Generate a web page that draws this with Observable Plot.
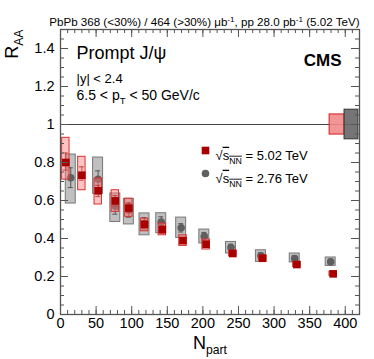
<!DOCTYPE html>
<html>
<head>
<meta charset="utf-8">
<script src="https://cdn.jsdelivr.net/npm/d3@7"></script>
<script src="https://cdn.jsdelivr.net/npm/@observablehq/plot@0.6"></script>
<style>
  html, body { margin: 0; padding: 0; background: #fff; }
  #chart svg { font-family: "Liberation Sans", Arial, Helvetica, sans-serif; display: block; }
</style>
</head>
<body>
<div id="chart"></div>
<script>
// ---- data: 5.02 TeV (red squares)
const nRed      = [7.5, 30, 53, 77, 96, 118, 143, 172, 204.5, 242, 284, 332, 383];
const rRed      = [0.80, 0.733, 0.651, 0.598, 0.56, 0.474, 0.447, 0.389, 0.37, 0.321, 0.296, 0.263, 0.214];
const redStatLo = [0.76, 0.707, 0.62, 0.57, 0.535, 0.455, 0.428, 0.375, 0.357, 0.311, 0.287, 0.255, 0.207];
const redStatHi = [0.85, 0.777, 0.68, 0.626, 0.585, 0.493, 0.466, 0.403, 0.383, 0.331, 0.305, 0.271, 0.221];
const redSystLo = [0.71, 0.654, 0.579, 0.54, 0.514, 0.438, 0.417, 0.361, 0.342, 0.306, 0.283, 0.25, 0.203];
const redSystHi = [0.93, 0.83, 0.716, 0.654, 0.61, 0.505, 0.479, 0.417, 0.395, 0.336, 0.31, 0.276, 0.225];
// ---- data: 2.76 TeV (grey circles)
const nGrey      = [14.4, 52.8, 77, 96, 118, 141.5, 169.5, 202, 239.5, 281.5, 329, 379.5];
const rGrey      = [0.72, 0.712, 0.57, 0.55, 0.48, 0.487, 0.456, 0.412, 0.353, 0.309, 0.295, 0.277];
const greyStatLo = [0.668, 0.668, 0.528, 0.512, 0.45, 0.46, 0.434, 0.392, 0.336, 0.293, 0.28, 0.263];
const greyStatHi = [0.772, 0.756, 0.612, 0.588, 0.51, 0.514, 0.478, 0.432, 0.37, 0.325, 0.31, 0.291];
const greySystLo = [0.584, 0.635, 0.487, 0.474, 0.417, 0.428, 0.403, 0.374, 0.321, 0.277, 0.274, 0.256];
const greySystHi = [0.842, 0.826, 0.637, 0.608, 0.532, 0.533, 0.51, 0.447, 0.382, 0.338, 0.321, 0.30];
// ---- global uncertainties at R_AA = 1
const globalLabels = ["5.02 TeV", "2.76 TeV"];
const globalHalf   = [0.053, 0.078];
// ---- ticks
const xMajor = d3.range(0, 401, 50);
const xMinor = d3.range(0, 421, 10);
const yMajor = [0, 0.2, 0.4, 0.6, 0.8, 1, 1.2, 1.4];
const yMinor = d3.range(0, 31).map(i => +(i * 0.05).toFixed(2));
// ---- texts
const headerText = "PbPb 368 (<30%) / 464 (>30%) μb^{-1}, pp 28.0 pb^{-1} (5.02 TeV)";
const titleText = "Prompt J/ψ";
const rapText = "|y| < 2.4";
const ptText = "6.5 < p_{T} < 50 GeV/c";
const cmsText = "CMS";
const yLabel = "R_{AA}";
const xLabel = "N_{part}";
const legendRed = "√~{s}_{NN} = 5.02 TeV";
const legendGrey = "√~{s}_{NN} = 2.76 TeV";

const red = nRed.map((n, i) => ({n, r: rRed[i], slo: redStatLo[i], shi: redStatHi[i], ylo: redSystLo[i], yhi: redSystHi[i]}));
const grey = nGrey.map((n, i) => ({n, r: rGrey[i], slo: greyStatLo[i], shi: greyStatHi[i], ylo: greySystLo[i], yhi: greySystHi[i]}));

const W = 374, H = 359, mL = 60, mR = 15, mT = 29, mB = 45;
const fw = W - mL - mR, fh = H - mT - mB;
const xMax = 420;
const globalBoxes = [
  {label: globalLabels[0], half: globalHalf[0], x1: xMax - 42, x2: xMax - 21, fill: "#f08a8a", stroke: "#d02020"},
  {label: globalLabels[1], half: globalHalf[1], x1: xMax - 21, x2: xMax - 1.5, fill: "#666", stroke: "#333"}
];
const frameCol = "#555";
const font = 14.5;

const plot = Plot.plot({
  width: W, height: H,
  marginLeft: mL, marginRight: mR, marginTop: mT, marginBottom: mB,
  x: {domain: [0, xMax]},
  y: {domain: [0, 1.5]},
  style: {fontFamily: "Liberation Sans, Arial, sans-serif", color: "#000", background: "#fff"},
  marks: [
    // unity line
    Plot.ruleY([1], {stroke: "#444", strokeWidth: 1}),
    // global uncertainty boxes
    Plot.rect(globalBoxes, {x1: "x1", x2: "x2", y1: d => 1 - d.half, y2: d => 1 + d.half, fill: "fill", fillOpacity: 0.9, stroke: "stroke", strokeWidth: 1}),
    // grey syst boxes
    Plot.rect(grey, {x1: d => d.n - 7, x2: d => d.n + 7, y1: "ylo", y2: "yhi", fill: "#8c8c8c", fillOpacity: 0.55, stroke: "#777", strokeWidth: 1}),
    Plot.ruleX(grey, {x: "n", y1: "slo", y2: "shi", stroke: "#555", strokeWidth: 1}),
    Plot.ruleY(grey, {y: "slo", x1: d => d.n - 3.5, x2: d => d.n + 3.5, stroke: "#555", strokeWidth: 1}),
    Plot.ruleY(grey, {y: "shi", x1: d => d.n - 3.5, x2: d => d.n + 3.5, stroke: "#555", strokeWidth: 1}),
    Plot.dot(grey, {x: "n", y: "r", r: 3.8, fill: "#5f5f5f", stroke: "none"}),
    // red syst boxes
    Plot.rect(red, {x1: d => d.n - 5.2, x2: d => d.n + 5.2, y1: "ylo", y2: "yhi", fill: "#ff7a7a", fillOpacity: 0.45, stroke: "#d83030", strokeWidth: 1}),
    Plot.ruleX(red, {x: "n", y1: "slo", y2: "shi", stroke: "#c84040", strokeWidth: 1}),
    Plot.ruleY(red, {y: "slo", x1: d => d.n - 3.5, x2: d => d.n + 3.5, stroke: "#c84040", strokeWidth: 1}),
    Plot.ruleY(red, {y: "shi", x1: d => d.n - 3.5, x2: d => d.n + 3.5, stroke: "#c84040", strokeWidth: 1}),
    Plot.dot(red, {x: "n", y: "r", symbol: "square", r: 4.3, fill: "#a80000", stroke: "none"}),
    // frame
    Plot.frame({stroke: frameCol, strokeWidth: 1.3}),
    // ticks (inward, all four sides)
    Plot.tickX(xMajor, {x: d => d, insetTop: fh - 8, stroke: frameCol}),
    Plot.tickX(xMinor, {x: d => d, insetTop: fh - 4, stroke: frameCol}),
    Plot.tickX(xMajor, {x: d => d, insetBottom: fh - 8, stroke: frameCol}),
    Plot.tickX(xMinor, {x: d => d, insetBottom: fh - 4, stroke: frameCol}),
    Plot.tickY(yMajor, {y: d => d, insetRight: fw - 8, stroke: frameCol}),
    Plot.tickY(yMinor, {y: d => d, insetRight: fw - 4, stroke: frameCol}),
    Plot.tickY(yMajor, {y: d => d, insetLeft: fw - 8, stroke: frameCol}),
    Plot.tickY(yMinor, {y: d => d, insetLeft: fw - 4, stroke: frameCol}),
    // axis labels
    Plot.axisX({ticks: xMajor, tickSize: 0, tickPadding: 3, fontSize: font, label: null, tickFormat: d => String(d)}),
    Plot.axisY({ticks: yMajor, tickSize: 0, tickPadding: 6, fontSize: font, label: null, tickFormat: d => String(d)}),
    // texts
    Plot.text([headerText], {frameAnchor: "top-right", dy: -12, textAnchor: "end", fontSize: 11.6, fill: "#000"}),
    Plot.text([titleText], {frameAnchor: "top-left", dx: 16, dy: 17, textAnchor: "start", fontSize: 18, fill: "#000"}),
    Plot.text([rapText], {frameAnchor: "top-left", dx: 16, dy: 44, textAnchor: "start", fontSize: 13, fill: "#000"}),
    Plot.text([ptText], {frameAnchor: "top-left", dx: 16, dy: 61, textAnchor: "start", fontSize: 14, fill: "#000"}),
    Plot.text([cmsText], {frameAnchor: "top-right", dx: -18, dy: 24, textAnchor: "end", fontSize: 17, fontWeight: "bold", fill: "#000"}),
    Plot.text([yLabel], {frameAnchor: "top-left", dx: -43, dy: 0, rotate: -90, textAnchor: "end", lineAnchor: "bottom", fontSize: 18, fill: "#000"}),
    Plot.text([xLabel], {frameAnchor: "bottom", dy: 34, lineAnchor: "bottom", fontSize: 18, fill: "#000"}),
    // legend
    Plot.dot([0], {frameAnchor: "top-left", dx: 145, dy: 121, symbol: "square", r: 4.3, fill: "#a80000"}),
    Plot.dot([0], {frameAnchor: "top-left", dx: 145, dy: 144, r: 3.8, fill: "#5f5f5f"}),
    Plot.text([legendRed], {frameAnchor: "top-left", dx: 155, dy: 121, textAnchor: "start", fontSize: 13, fill: "#000"}),
    Plot.text([legendGrey], {frameAnchor: "top-left", dx: 155, dy: 144, textAnchor: "start", fontSize: 13, fill: "#000"})
  ]
});
document.getElementById("chart").appendChild(plot);

// rich text: _{sub}, ^{sup}, ~{overline}
const NS = "http://www.w3.org/2000/svg";
plot.querySelectorAll("text").forEach(t => {
  const s = t.textContent;
  if (!/[_^~]\{/.test(s)) return;
  const fs = parseFloat(getComputedStyle(t).fontSize) || 12;
  const parts = s.split(/([_^~]\{[^}]*\})/).filter(p => p.length);
  while (t.firstChild) t.removeChild(t.firstChild);
  parts.forEach(p => {
    const ts = document.createElementNS(NS, "tspan");
    if (p.startsWith("_{")) {
      ts.textContent = p.slice(2, -1);
      ts.setAttribute("font-size", (fs * 0.68).toFixed(1));
      ts.setAttribute("baseline-shift", (-fs * 0.28).toFixed(1));
      if (/NN/.test(p)) ts.setAttribute("text-decoration", "overline");
    } else if (p.startsWith("^{")) {
      ts.textContent = p.slice(2, -1);
      ts.setAttribute("font-size", (fs * 0.7).toFixed(1));
      ts.setAttribute("baseline-shift", (fs * 0.38).toFixed(1));
    } else if (p.startsWith("~{")) {
      ts.textContent = p.slice(2, -1);
      ts.setAttribute("text-decoration", "overline");
    } else {
      ts.textContent = p;
    }
    t.appendChild(ts);
  });
});
</script>
</body>
</html>
